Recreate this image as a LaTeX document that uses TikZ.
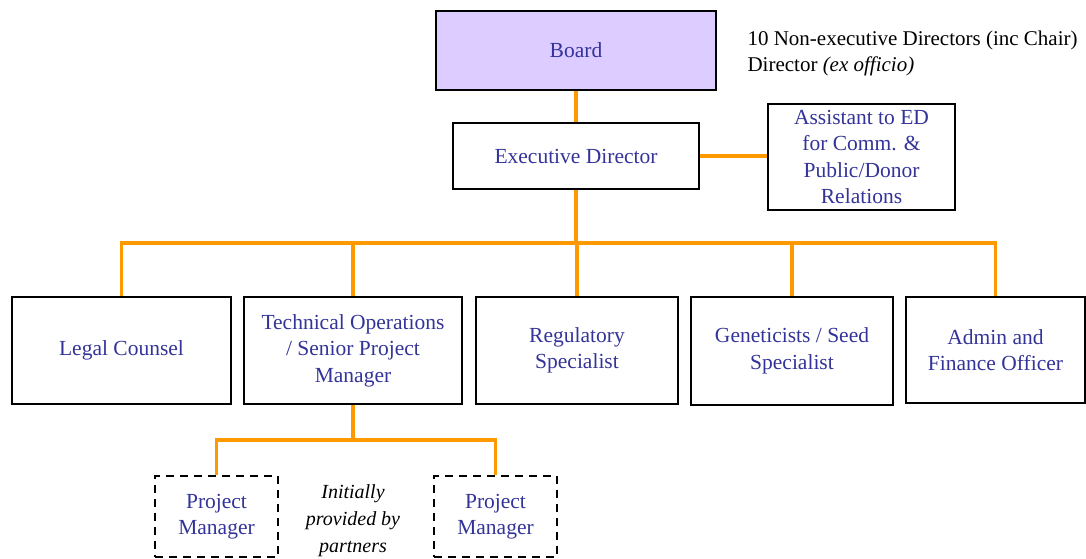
\documentclass[tikz,border=0pt]{standalone}
\usepackage{fontspec}
\setmainfont{Liberation Serif}
\definecolor{orgblue}{RGB}{51,51,153}
\definecolor{orgline}{RGB}{255,153,0}
\definecolor{boardfill}{RGB}{220,204,255}
\begin{document}
\begin{tikzpicture}[x=1pt,y=-1pt,
    post/.style={draw=black, line width=2pt, inner sep=0pt, align=center,
      text=orgblue, font=\fontsize{21.5}{26.5}\selectfont},
    partner/.style={post, line width=2pt, dash pattern=on 8pt off 6pt},
    link/.style={draw=orgline, line width=3.5pt}]
    \useasboundingbox (0,0) rectangle (1086,559);
    % board and director
    \node (board) [post, fill=boardfill, minimum width=280, minimum height=79] at (576,50.5) {Board};
    \node (ed) [post, minimum width=246, minimum height=66] at (576,156) {Executive Director};
    \node (asst) [post, minimum width=187, minimum height=106] at (861.5,157) {Assistant to ED\\for Comm. \&\\Public/Donor\\Relations};
    \node (note) [anchor=west, align=left, font=\fontsize{21}{26}\selectfont] at (744,53) {10 Non-executive Directors (inc Chair)\\Director \textit{(ex officio)}};
    % second level
    \node (legal) [post, minimum width=219, minimum height=107] at (121.5,350.5) {Legal Counsel};
    \node (tech) [post, minimum width=218, minimum height=107] at (353,350.5) {Technical Operations\\/ Senior Project\\Manager};
    \node (reg) [post, minimum width=202, minimum height=107] at (577,350.5) {Regulatory\\Specialist};
    \node (gen) [post, minimum width=202, minimum height=108] at (792,351) {Geneticists / Seed\\Specialist};
    \node (admin) [post, minimum width=179, minimum height=106] at (995.5,350) {Admin and\\Finance Officer};
    % project managers
    \node (pmA) [partner, minimum width=123, minimum height=81] at (216.5,516.5) {Project\\Manager};
    \node (pmB) [partner, minimum width=123, minimum height=81] at (495.5,516.5) {Project\\Manager};
    \node (init) [align=center, font=\fontsize{20}{27}\selectfont\itshape] at (353,521) {Initially\\provided by\\partners};
    % connectors
    \coordinate (bus) at (576,243);
    \coordinate (pmbus) at (353,440);
    \draw [link] (board) -- (ed);
    \draw [link] (ed.east) -- (ed.east -| asst.west);
    \draw [link] (ed.south) -- (bus);
    \draw [link] (legal.north) |- (bus) -| (admin.north);
    \draw [link] (tech.north) -- (tech.north |- bus);
    \draw [link] (reg.north) -- (reg.north |- bus);
    \draw [link] (gen.north) -- (gen.north |- bus);
    \draw [link] (tech.south) -- (pmbus);
    \draw [link] (pmA.north) |- (pmbus) -| (pmB.north);
\end{tikzpicture}
\end{document}
